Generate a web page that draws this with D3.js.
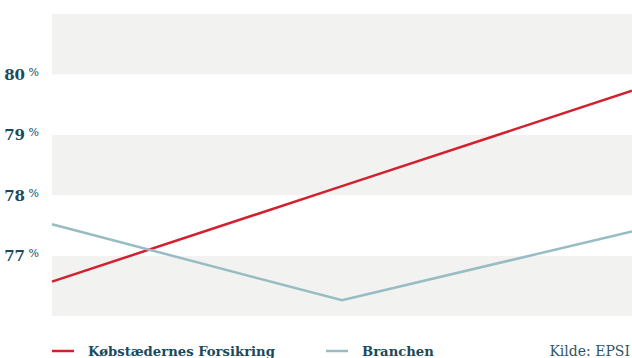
<!DOCTYPE html>
<html>
<head>
<meta charset="utf-8">
<script src="https://cdn.jsdelivr.net/npm/d3@7"></script>
<style>
  html, body { margin: 0; padding: 0; background: #fff; }
  svg { display: block; }
</style>
</head>
<body>
<svg id="chart" width="632" height="358"></svg>
<script>
// Customer satisfaction (EPSI), three consecutive measurements
const periods = ["2019", "2020", "2021"];
const kobstaedernes = [76.57, 78.15, 79.73];
const branchen = [77.52, 76.26, 77.40];
const tickValues = [77, 78, 79, 80];
const seriesNames = ["Købstædernes Forsikring", "Branchen"];
const sourceText = "Kilde: EPSI";

const W = 632, H = 358;
const margin = { top: 14, right: 0, bottom: 42, left: 52 };
const svg = d3.select("#chart");

const x = d3.scalePoint().domain(periods).range([margin.left, W - margin.right]);
const y = d3.scaleLinear().domain([76, 81]).range([H - margin.bottom, margin.top]);

const textColor = "#1b4a5c";
const colors = ["#d3202e", "#98bcc3"];
const serif = "'DejaVu Serif', 'Liberation Serif', serif";

// alternating horizontal bands, one per percentage point
const bandStarts = d3.range(76, 81);
svg.append("g").selectAll("rect")
  .data(bandStarts)
  .join("rect")
  .attr("x", margin.left)
  .attr("width", W - margin.right - margin.left)
  .attr("y", d => y(d + 1))
  .attr("height", d => y(d) - y(d + 1))
  .attr("fill", d => (d % 2 === 0 ? "#f2f2f0" : "#ffffff"));

// y axis labels: bold number with a small raised percent sign
const yAxis = d3.axisLeft(y).tickValues(tickValues).tickSize(0).tickPadding(0).tickFormat("");
const gy = svg.append("g").attr("transform", `translate(${margin.left - 13},0)`).call(yAxis);
gy.select(".domain").remove();
gy.selectAll(".tick").each(function (d) {
  const t = d3.select(this).append("text")
    .attr("text-anchor", "end")
    .attr("y", 5)
    .attr("fill", textColor)
    .style("font-family", serif);
  t.append("tspan").text(d).attr("font-weight", "bold").attr("font-size", 15);
  t.append("tspan").text(" %").attr("font-size", 11).attr("dy", -4);
});

// series lines
const line = d3.line().x((d, i) => x(periods[i])).y(d => y(d));
[kobstaedernes, branchen].forEach((vals, i) => {
  svg.append("path")
    .datum(vals)
    .attr("d", line)
    .attr("fill", "none")
    .attr("stroke", colors[i])
    .attr("stroke-width", 2.5)
    .attr("stroke-linejoin", "miter");
});

// legend
const legendY = 351;
const legendX = [52, 326];
seriesNames.forEach((name, i) => {
  const g = svg.append("g").attr("transform", `translate(${legendX[i]},${legendY})`);
  g.append("line").attr("x1", 0).attr("x2", 22)
    .attr("stroke", colors[i]).attr("stroke-width", 2.5);
  g.append("text").attr("x", 36).attr("y", 5)
    .attr("fill", textColor)
    .attr("font-weight", "bold")
    .attr("font-size", 13.2)
    .style("font-family", serif)
    .text(name);
});

svg.append("text")
  .attr("x", 630).attr("y", legendY + 5)
  .attr("text-anchor", "end")
  .attr("fill", "#2f5566")
  .attr("font-size", 14)
  .style("font-family", serif)
  .text(sourceText);
</script>
</body>
</html>
